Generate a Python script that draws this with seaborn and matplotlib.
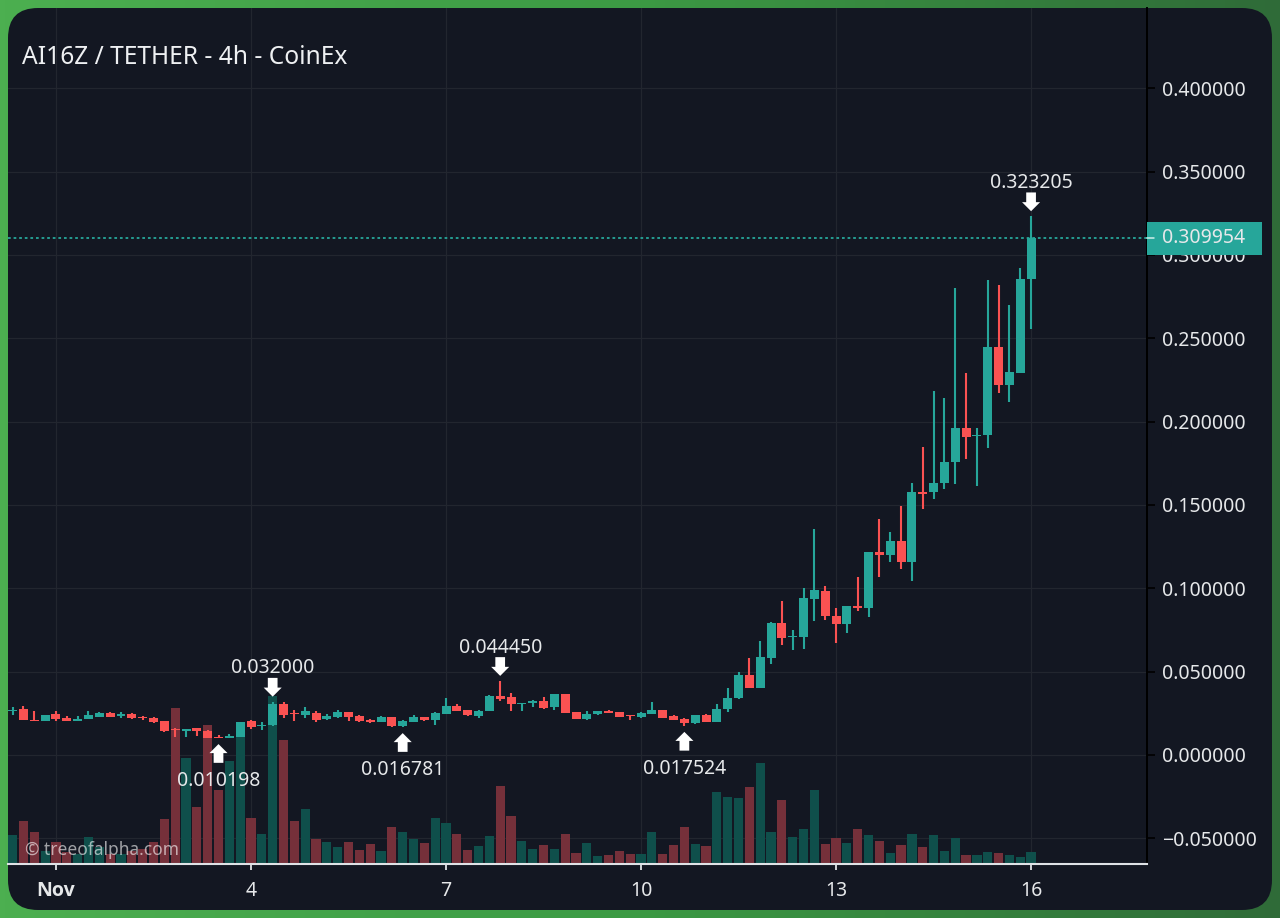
import numpy as np
import pandas as pd
import matplotlib
matplotlib.use('Agg')
import matplotlib.pyplot as plt
from matplotlib.patches import FancyBboxPatch, Rectangle
import seaborn as sns

# 4h candles, slot 0 = 1 Nov 00:00
slots = list(range(-4, 91))
opens = [.0264,.0274,.0210,.0206,.0246,.0224,.0206,.0216,.0228,.0252,.0232,.0246,.0226,.0224,.0202,.0154,.0142,.0160,.0144,.0110,
         .0104,.0108,.0204,.0172,.0178,.0304,.0254,.0240,.0254,.0214,.0226,.0256,.0236,.0210,.0200,.0230,.0172,.0200,.0226,.0208,
         .0248,.0296,.0268,.0234,.0264,.0352,.0346,.0306,.0310,.0322,.0286,.0366,.0258,.0216,.0246,.0264,.0258,.0238,.0230,.0248,
         .0268,.0232,.0216,.0194,.0242,.0200,.0276,.0340,.0480,.0404,.0584,.0794,.0706,.0708,.0938,.0986,.0836,.0786,.0894,.0884,
         .1216,.1202,.1282,.1160,.1580,.1576,.1634,.1756,.1960,.1914,.1918,.2448,.2220,.2292,.2856]
closes = [.0272,.0210,.0204,.0242,.0218,.0204,.0218,.0238,.0252,.0230,.0248,.0220,.0220,.0196,.0144,.0148,.0158,.0146,.0104,.0104,
          .0112,.0198,.0170,.0180,.0308,.0242,.0248,.0262,.0210,.0234,.0256,.0228,.0202,.0200,.0230,.0172,.0204,.0226,.0210,.0252,
          .0294,.0264,.0238,.0266,.0354,.0338,.0304,.0312,.0324,.0284,.0364,.0254,.0214,.0246,.0262,.0254,.0230,.0232,.0250,.0268,
          .0224,.0212,.0190,.0240,.0198,.0278,.0344,.0480,.0404,.0586,.0794,.0704,.0712,.0940,.0990,.0834,.0786,.0896,.0882,.1218,
          .1202,.1282,.1160,.1580,.1568,.1630,.1758,.1960,.1910,.1922,.2448,.2220,.2296,.2858,.309954]
highs = [.0286,.0294,.0266,.0242,.0264,.0236,.0236,.0264,.0256,.0256,.0258,.0252,.0232,.0228,.0206,.0162,.0158,.0160,.0148,.0118,
         .0126,.0198,.0210,.0200,.0320,.0316,.0272,.0286,.0262,.0246,.0272,.0260,.0240,.0214,.0234,.0230,.0208,.0242,.0230,.0258,
         .0340,.0306,.0272,.0270,.0358,.04445,.0372,.0312,.0330,.0350,.0368,.0366,.0258,.0262,.0266,.0272,.0260,.0238,.0256,.0318,
         .0270,.0240,.0220,.0242,.0244,.0304,.0400,.0496,.0580,.0684,.0800,.0926,.0750,.1000,.1354,.1014,.0880,.0896,.1068,.1218,
         .1414,.1338,.1496,.1634,.1846,.2186,.2144,.2800,.2290,.1960,.2850,.2822,.2698,.2920,.323205]
lows = [.0238,.0210,.0204,.0206,.0204,.0204,.0204,.0214,.0226,.0226,.0224,.0214,.0212,.0190,.0140,.0106,.0106,.0112,.0103,.010198,
        .0104,.0106,.0158,.0150,.0174,.0220,.0204,.0224,.0198,.0210,.0224,.0204,.0198,.0190,.0196,.0170,.016781,.0198,.0204,.0180,
        .0246,.0262,.0236,.0222,.0262,.0324,.0264,.0264,.0290,.0278,.0270,.0252,.0214,.0212,.0238,.0252,.0228,.0212,.0224,.0246,
        .0222,.0210,.017524,.0188,.0196,.0198,.0260,.0338,.0402,.0402,.0548,.0660,.0630,.0636,.0806,.0810,.0670,.0730,.0864,.0828,
        .1068,.1160,.1116,.1046,.1478,.1534,.1594,.1626,.1776,.1614,.1844,.2172,.2118,.2292,.2556]
volumes = [88,129,96,40,66,35,30,80,50,30,30,40,45,67,134,468,317,172,416,221,
           308,424,137,90,505,373,130,166,75,65,51,67,43,61,40,112,96,76,64,139,
           123,91,42,53,85,233,145,70,45,56,45,91,32,64,23,28,39,31,31,96,
           31,58,112,61,55,215,202,199,232,303,96,191,81,104,221,60,79,63,104,87,
           69,33,57,90,52,87,38,77,27,26,36,33,27,20,36]

tick_slots = [0, 18, 36, 54, 72, 90]
tick_labels = ['Nov', '4', '7', '10', '13', '16']
price_ticks = [-0.05, 0.0, 0.05, 0.10, 0.15, 0.20, 0.25, 0.30, 0.35, 0.40]
last_price = 0.309954

# marked extremes: slot, price, text, up/down
marks = [(15, .010198, '0.010198', 'low'), (20, .032, '0.032000', 'high'), (32, .016781, '0.016781', 'low'),
         (41, .04445, '0.044450', 'high'), (58, .017524, '0.017524', 'low'), (90, .323205, '0.323205', 'high')]

CARD = '#131722'
GRID = '#22262f'
UP = '#26a69a'
DOWN = '#fa5252'
VOL_UP = '#0f4f4b'
VOL_DOWN = '#75303a'
TEXT = '#e6e8ea'
AXIS = '#dfe2e6'

sns.set_theme(style='dark', rc={'axes.facecolor': 'none', 'figure.facecolor': '#3f9a45'})
plt.rcParams['font.family'] = ['Noto Sans', 'DejaVu Sans']

df = pd.DataFrame({'slot': slots, 'open': opens, 'high': highs, 'low': lows, 'close': closes, 'vol': volumes})
df['dir'] = np.where(df['close'] >= df['open'], 'up', 'down')

fig = plt.figure(figsize=(12.8, 9.18), dpi=100)

# green frame + rounded card
bg = fig.add_axes([0, 0, 1, 1], zorder=0)
bg.imshow(np.linspace(0, 1, 256).reshape(1, -1), aspect='auto', extent=[0, 1, 0, 1],
          cmap=matplotlib.colors.LinearSegmentedColormap.from_list('g', ['#4caf50', '#3c9a44', '#2f6b38']))
bg.axis('off')
r = 30
bg.add_patch(FancyBboxPatch((8 + r, 8 + r), 1264 - 2 * r, 902 - 2 * r, boxstyle=f'round,pad={r},rounding_size={r}',
                            fc=CARD, ec='none', transform=None))

ax = fig.add_axes([8 / 1280, (918 - 864) / 918, 1139 / 1280, 856 / 918], zorder=1)
floor = -0.0654

# volume sits on the floor of the price pane
sns.barplot(data=df.assign(h=df['vol'] * 0.0002), x='slot', y='h', hue='dir', native_scale=True, dodge=False,
            palette={'up': VOL_UP, 'down': VOL_DOWN}, hue_order=['up', 'down'], width=0.85, saturation=1,
            errorbar=None, legend=False, bottom=floor, ax=ax, zorder=2, linewidth=0)

colors = [UP if d == 'up' else DOWN for d in df['dir']]
ax.vlines(df['slot'], df['low'], df['high'], colors=colors, linewidth=1.5, zorder=3)
ax.bar(df['slot'], (df['close'] - df['open']).abs().clip(lower=0.0006), bottom=df[['open', 'close']].min(axis=1),
       width=0.83, color=colors, zorder=4, linewidth=0)

ax.set_xlim(-4.43, 100.7)
ax.set_ylim(floor, 0.4481)
ax.set_xlabel('')
ax.set_ylabel('')
ax.set_xticks(tick_slots, tick_labels)
ax.set_yticks(price_ticks, [f'{p:.6f}'.replace('-', '\u2212') for p in price_ticks])
ax.yaxis.tick_right()
ax.grid(True, color=GRID, linewidth=0.9)
ax.tick_params(axis='y', which='major', length=5.5, width=1.2, color='black', labelcolor=TEXT, labelsize=14, pad=5, right=True)
ax.tick_params(axis='x', which='major', length=0, labelcolor=TEXT, labelsize=14, pad=12.5)
ax.vlines(tick_slots, -0.0065, 0, transform=ax.get_xaxis_transform(), colors=AXIS, linewidth=1.3, clip_on=False, zorder=6)
ax.get_xticklabels()[0].set_fontfamily('Open Sans')
ax.get_xticklabels()[0].set_fontweight('bold')
for side in ['left', 'top']:
    ax.spines[side].set_visible(False)
ax.spines['right'].set_color('black')
ax.spines['right'].set_linewidth(1.4)
ax.spines['bottom'].set_color(AXIS)
ax.spines['bottom'].set_linewidth(1.5)

ax.axhline(last_price, color=UP, linewidth=1.3, dashes=(1.5, 1.6), zorder=3)
ax.add_patch(Rectangle((1.0, last_price - 0.0099), 0.101, 0.0198, transform=ax.get_yaxis_transform(),
                       fc=UP, ec='none', clip_on=False, zorder=5))
ax.plot([1.0, 1.006], [last_price, last_price], transform=ax.get_yaxis_transform(), color='#cfeeea', linewidth=1.1,
        clip_on=False, zorder=6)
ax.text(1.0132, last_price, f'{last_price:.6f}', transform=ax.get_yaxis_transform(), color=TEXT, fontsize=14,
        va='center', ha='left', zorder=6)

# arrows + labels on extremes
for slot, price, label, kind in marks:
    sign = 1 if kind == 'high' else -1
    gap = 3.6 if kind == 'high' else 4.4
    ax.annotate('', xy=(slot, price), xycoords='data', xytext=(0, sign * (gap + 13.5)), textcoords='offset points',
                arrowprops=dict(arrowstyle='simple,tail_width=7,head_width=13,head_length=6.5', mutation_scale=1,
                                shrinkA=0, shrinkB=gap, fc='white', ec='none', lw=0),
                zorder=8, annotation_clip=False)
    offset = 24 if kind == 'high' else -31
    ax.annotate(label, xy=(slot, price), xytext=(0, offset), textcoords='offset points', color=TEXT,
                fontsize=14, ha='center', va='center', zorder=8)

ax.text(0.0151, 0.0165, '© treeofalpha.com', transform=ax.transAxes, color='white', alpha=0.6, fontsize=12.5,
        va='center', ha='left', zorder=9)
fig.text(22 / 1280, 1 - 57 / 918, 'AI16Z / TETHER - 4h - CoinEx', color='#eef0f2', fontsize=17.7, va='center', ha='left',
         zorder=3)

fig.savefig('out.png', dpi=100, facecolor=fig.get_facecolor())
